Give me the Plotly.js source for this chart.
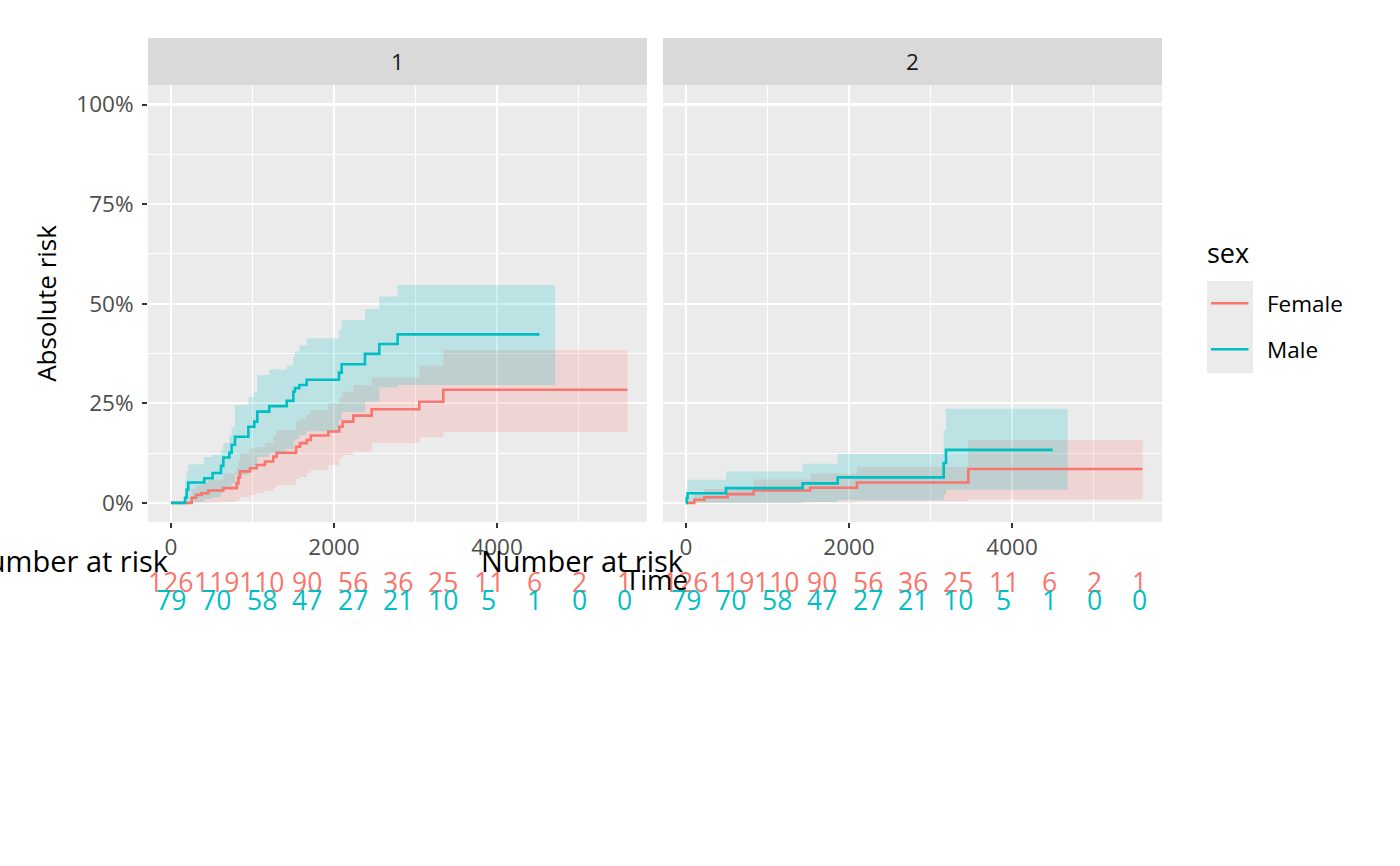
<!DOCTYPE html>
<html>
<head>
<meta charset="utf-8">
<script src="https://cdn.plot.ly/plotly-3.0.1.min.js"></script>
<style>html,body{margin:0;padding:0;background:#fff;}#chart{width:1400px;height:866px;}</style>
</head>
<body>
<div id="chart"></div>
<script>
// ---------- data ----------
// Panel 1
const femaleTimes1 = [0, 254, 307, 377, 458, 642, 806, 827, 847, 969, 1051, 1153, 1255, 1297, 1534, 1583, 1665, 1714, 1930, 2065, 2106, 2237, 2462, 3047, 3341];
const femaleEst1   = [0, 0.013, 0.020, 0.024, 0.031, 0.037, 0.049, 0.064, 0.079, 0.087, 0.095, 0.104, 0.116, 0.126, 0.141, 0.150, 0.158, 0.169, 0.179, 0.191, 0.204, 0.219, 0.235, 0.254, 0.284];
const femaleLow1   = [0, 0, 0, 0, 0.001, 0.002, 0.004, 0.008, 0.015, 0.020, 0.025, 0.030, 0.037, 0.045, 0.060, 0.065, 0.075, 0.083, 0.095, 0.112, 0.120, 0.129, 0.150, 0.165, 0.178];
const femaleUpp1   = [0, 0.035, 0.045, 0.050, 0.058, 0.074, 0.090, 0.110, 0.125, 0.137, 0.140, 0.151, 0.170, 0.183, 0.204, 0.210, 0.222, 0.233, 0.250, 0.263, 0.279, 0.296, 0.315, 0.344, 0.384];
const femaleLineEnd1 = 5600;
const femaleBandEnd1 = 5600;

const maleTimes1 = [0, 172, 192, 212, 409, 511, 614, 642, 716, 744, 785, 949, 1022, 1059, 1206, 1419, 1501, 1521, 1575, 1665, 2061, 2094, 2380, 2556, 2781];
const maleEst1   = [0, 0.013, 0.033, 0.051, 0.062, 0.075, 0.093, 0.114, 0.126, 0.146, 0.166, 0.191, 0.204, 0.229, 0.243, 0.256, 0.279, 0.288, 0.296, 0.309, 0.327, 0.348, 0.374, 0.399, 0.423];
const maleLow1   = [0, 0, 0, 0.002, 0.010, 0.015, 0.025, 0.035, 0.042, 0.050, 0.070, 0.085, 0.095, 0.115, 0.125, 0.135, 0.155, 0.160, 0.170, 0.180, 0.208, 0.228, 0.254, 0.290, 0.296];
const maleUpp1   = [0, 0.060, 0.080, 0.097, 0.115, 0.120, 0.133, 0.150, 0.170, 0.190, 0.246, 0.265, 0.279, 0.321, 0.335, 0.345, 0.366, 0.380, 0.396, 0.413, 0.434, 0.459, 0.487, 0.518, 0.547];
const maleLineEnd1 = 4520;
const maleBandEnd1 = 4712;

// Panel 2
const femaleTimes2 = [0, 102, 225, 511, 830, 1525, 2098, 3464];
const femaleEst2   = [0, 0.008, 0.014, 0.022, 0.031, 0.038, 0.051, 0.085];
const femaleLow2   = [0, 0, 0, 0, 0, 0.001, 0.004, 0.009];
const femaleUpp2   = [0, 0.025, 0.035, 0.035, 0.059, 0.073, 0.091, 0.158];
const femaleLineEnd2 = 5600;
const femaleBandEnd2 = 5600;

const maleTimes2 = [0, 8, 20, 491, 1431, 1861, 3162, 3190];
const maleEst2   = [0, 0.012, 0.024, 0.037, 0.049, 0.064, 0.100, 0.133];
const maleLow2   = [0, 0, 0, 0, 0.002, 0.0075, 0.020, 0.033];
const maleUpp2   = [0, 0.034, 0.058, 0.079, 0.098, 0.123, 0.183, 0.236];
const maleLineEnd2 = 4499;
const maleBandEnd2 = 4683;

// Number at risk table
const riskTimes  = [0, 557, 1114, 1671, 2228, 2785, 3342, 3899, 4456, 5013, 5570];
const femaleRisk = [126, 119, 110, 90, 56, 36, 25, 11, 6, 2, 1];
const maleRisk   = [79, 70, 58, 47, 27, 21, 10, 5, 1, 0, 0];

const panelLabels = ['1', '2'];
const groupNames  = ['Female', 'Male'];
const yTickVals   = [0, 0.25, 0.5, 0.75, 1];
const yTickText   = ['0%', '25%', '50%', '75%', '100%'];
const xTickVals   = [0, 2000, 4000];

// ---------- styling ----------
const RED = '#F8766D', CYAN = '#00BFC4';
const RED_FILL = 'rgba(248,118,109,0.2)', CYAN_FILL = 'rgba(0,191,196,0.2)';
const FONT = 'Open Sans, Noto Sans, sans-serif';
const SMALL = 22.5;
const W = 1400, H = 866;
const px = v => v / W;
const py = v => 1 - v / H;

function ext(arr, end) { return arr.concat([end]); }
function extVal(arr) { return arr.concat([arr[arr.length - 1]]); }

function band(times, low, upp, end, xa, ya, fill) {
  return [
    {x: ext(times, end), y: extVal(low), xaxis: xa, yaxis: ya, type: 'scatter', mode: 'lines',
     line: {shape: 'hv', width: 0, color: 'rgba(0,0,0,0)'}, showlegend: false, hoverinfo: 'skip'},
    {x: ext(times, end), y: extVal(upp), xaxis: xa, yaxis: ya, type: 'scatter', mode: 'lines',
     fill: 'tonexty', fillcolor: fill,
     line: {shape: 'hv', width: 0, color: 'rgba(0,0,0,0)'}, showlegend: false, hoverinfo: 'skip'}
  ];
}
function line(times, est, end, xa, ya, color, name) {
  return {x: ext(times, end), y: extVal(est), xaxis: xa, yaxis: ya, type: 'scatter', mode: 'lines',
          name: name, line: {shape: 'hv', width: 2.6, color: color}, showlegend: false};
}

const traces = [].concat(
  band(femaleTimes1, femaleLow1, femaleUpp1, femaleBandEnd1, 'x', 'y', RED_FILL),
  band(maleTimes1, maleLow1, maleUpp1, maleBandEnd1, 'x', 'y', CYAN_FILL),
  [line(femaleTimes1, femaleEst1, femaleLineEnd1, 'x', 'y', RED, groupNames[0]),
   line(maleTimes1, maleEst1, maleLineEnd1, 'x', 'y', CYAN, groupNames[1])],
  band(femaleTimes2, femaleLow2, femaleUpp2, femaleBandEnd2, 'x2', 'y2', RED_FILL),
  band(maleTimes2, maleLow2, maleUpp2, maleBandEnd2, 'x2', 'y2', CYAN_FILL),
  [line(femaleTimes2, femaleEst2, femaleLineEnd2, 'x2', 'y2', RED, groupNames[0]),
   line(maleTimes2, maleEst2, maleLineEnd2, 'x2', 'y2', CYAN, groupNames[1])]
);

const dom1 = [px(148), px(647)], dom2 = [px(663), px(1162)];
const yDom = [py(522), py(85)];
const xRange = [-282, 5840], yRange = [-0.048, 1.049];

function xaxisCfg(domain, anchor) {
  return {domain: domain, anchor: anchor, range: xRange, tickvals: xTickVals,
    ticks: 'outside', ticklen: 5, tickwidth: 2, tickcolor: '#333333',
    tickfont: {family: FONT, size: SMALL, color: '#4d4d4d'},
    showgrid: true, gridcolor: '#ffffff', gridwidth: 2.2, zeroline: false, showline: false,
    minor: {dtick: 1000, tick0: 0, showgrid: true, gridcolor: '#ffffff', gridwidth: 1.1, ticks: ''}};
}
function yaxisCfg(anchor, showLabels) {
  return {domain: yDom, anchor: anchor, range: yRange, tickvals: yTickVals, ticktext: yTickText,
    ticks: showLabels ? 'outside' : '', ticklen: 5, tickwidth: 2, tickcolor: '#333333',
    showticklabels: showLabels, ticklabelstandoff: 4,
    tickfont: {family: FONT, size: SMALL, color: '#4d4d4d'},
    showgrid: true, gridcolor: '#ffffff', gridwidth: 2.2, zeroline: false, showline: false,
    minor: {dtick: 0.125, tick0: 0, showgrid: true, gridcolor: '#ffffff', gridwidth: 1.1, ticks: ''}};
}

const annotations = [];
const shapes = [];

// strips
[dom1, dom2].forEach((d, i) => {
  shapes.push({type: 'rect', xref: 'paper', yref: 'paper', x0: d[0], x1: d[1], y0: py(85), y1: py(38),
               fillcolor: '#d9d9d9', line: {width: 0}, layer: 'below'});
  annotations.push({xref: 'paper', yref: 'paper', x: (d[0] + d[1]) / 2, y: py(62), text: panelLabels[i],
                    showarrow: false, xanchor: 'center', yanchor: 'middle',
                    font: {family: FONT, size: SMALL, color: '#1a1a1a'}});
});

// number at risk tables
['x', 'x2'].forEach(xr => {
  annotations.push({xref: xr, yref: 'paper', x: 0, y: py(560), text: 'Number at risk', showarrow: false,
                    xanchor: 'right', yanchor: 'middle', font: {family: FONT, size: 29, color: '#000000'}});
  riskTimes.forEach((t, i) => {
    annotations.push({xref: xr, yref: 'paper', x: t, y: py(582), text: String(femaleRisk[i]), showarrow: false,
                      xanchor: 'center', yanchor: 'middle', font: {family: FONT, size: 26.5, color: RED}});
    annotations.push({xref: xr, yref: 'paper', x: t, y: py(600), text: String(maleRisk[i]), showarrow: false,
                      xanchor: 'center', yanchor: 'middle', font: {family: FONT, size: 26.5, color: CYAN}});
  });
});

// shared x title
annotations.push({xref: 'paper', yref: 'paper', x: px(656), y: py(579), text: 'Time', showarrow: false,
                  xanchor: 'center', yanchor: 'middle', font: {family: FONT, size: 27.5, color: '#000000'}});

// legend (drawn by hand, ggplot style)
shapes.push({type: 'rect', xref: 'paper', yref: 'paper', x0: px(1207), x1: px(1253), y0: py(373), y1: py(281),
             fillcolor: '#ebebeb', line: {width: 0}});
[[RED, 303.3], [CYAN, 349.3]].forEach(([c, yy]) => {
  shapes.push({type: 'line', xref: 'paper', yref: 'paper', x0: px(1211), x1: px(1248.5), y0: py(yy), y1: py(yy),
               line: {color: c, width: 2.6}});
});
annotations.push({xref: 'paper', yref: 'paper', x: px(1205), y: py(252), text: 'sex', showarrow: false,
                  xanchor: 'left', yanchor: 'middle', font: {family: FONT, size: 27, color: '#000000'}});
groupNames.forEach((g, i) => {
  annotations.push({xref: 'paper', yref: 'paper', x: px(1265), y: py(i === 0 ? 303 : 349), text: g, showarrow: false,
                    xanchor: 'left', yanchor: 'middle', font: {family: FONT, size: SMALL, color: '#000000'}});
});

const layout = {
  width: W, height: H,
  margin: {l: 0, r: 0, t: 0, b: 0, pad: 0},
  paper_bgcolor: '#ffffff', plot_bgcolor: '#ebebeb',
  showlegend: false,
  font: {family: FONT},
  xaxis: xaxisCfg(dom1, 'y'),
  xaxis2: xaxisCfg(dom2, 'y2'),
  yaxis: Object.assign(yaxisCfg('x', true), {
    title: {text: 'Absolute risk', font: {family: FONT, size: 26, color: '#000000'}, standoff: 12}}),
  yaxis2: Object.assign(yaxisCfg('x2', false), {matches: 'y'}),
  shapes: shapes,
  annotations: annotations
};

Plotly.newPlot('chart', traces, layout, {displayModeBar: false, staticPlot: true});
</script>
</body>
</html>
